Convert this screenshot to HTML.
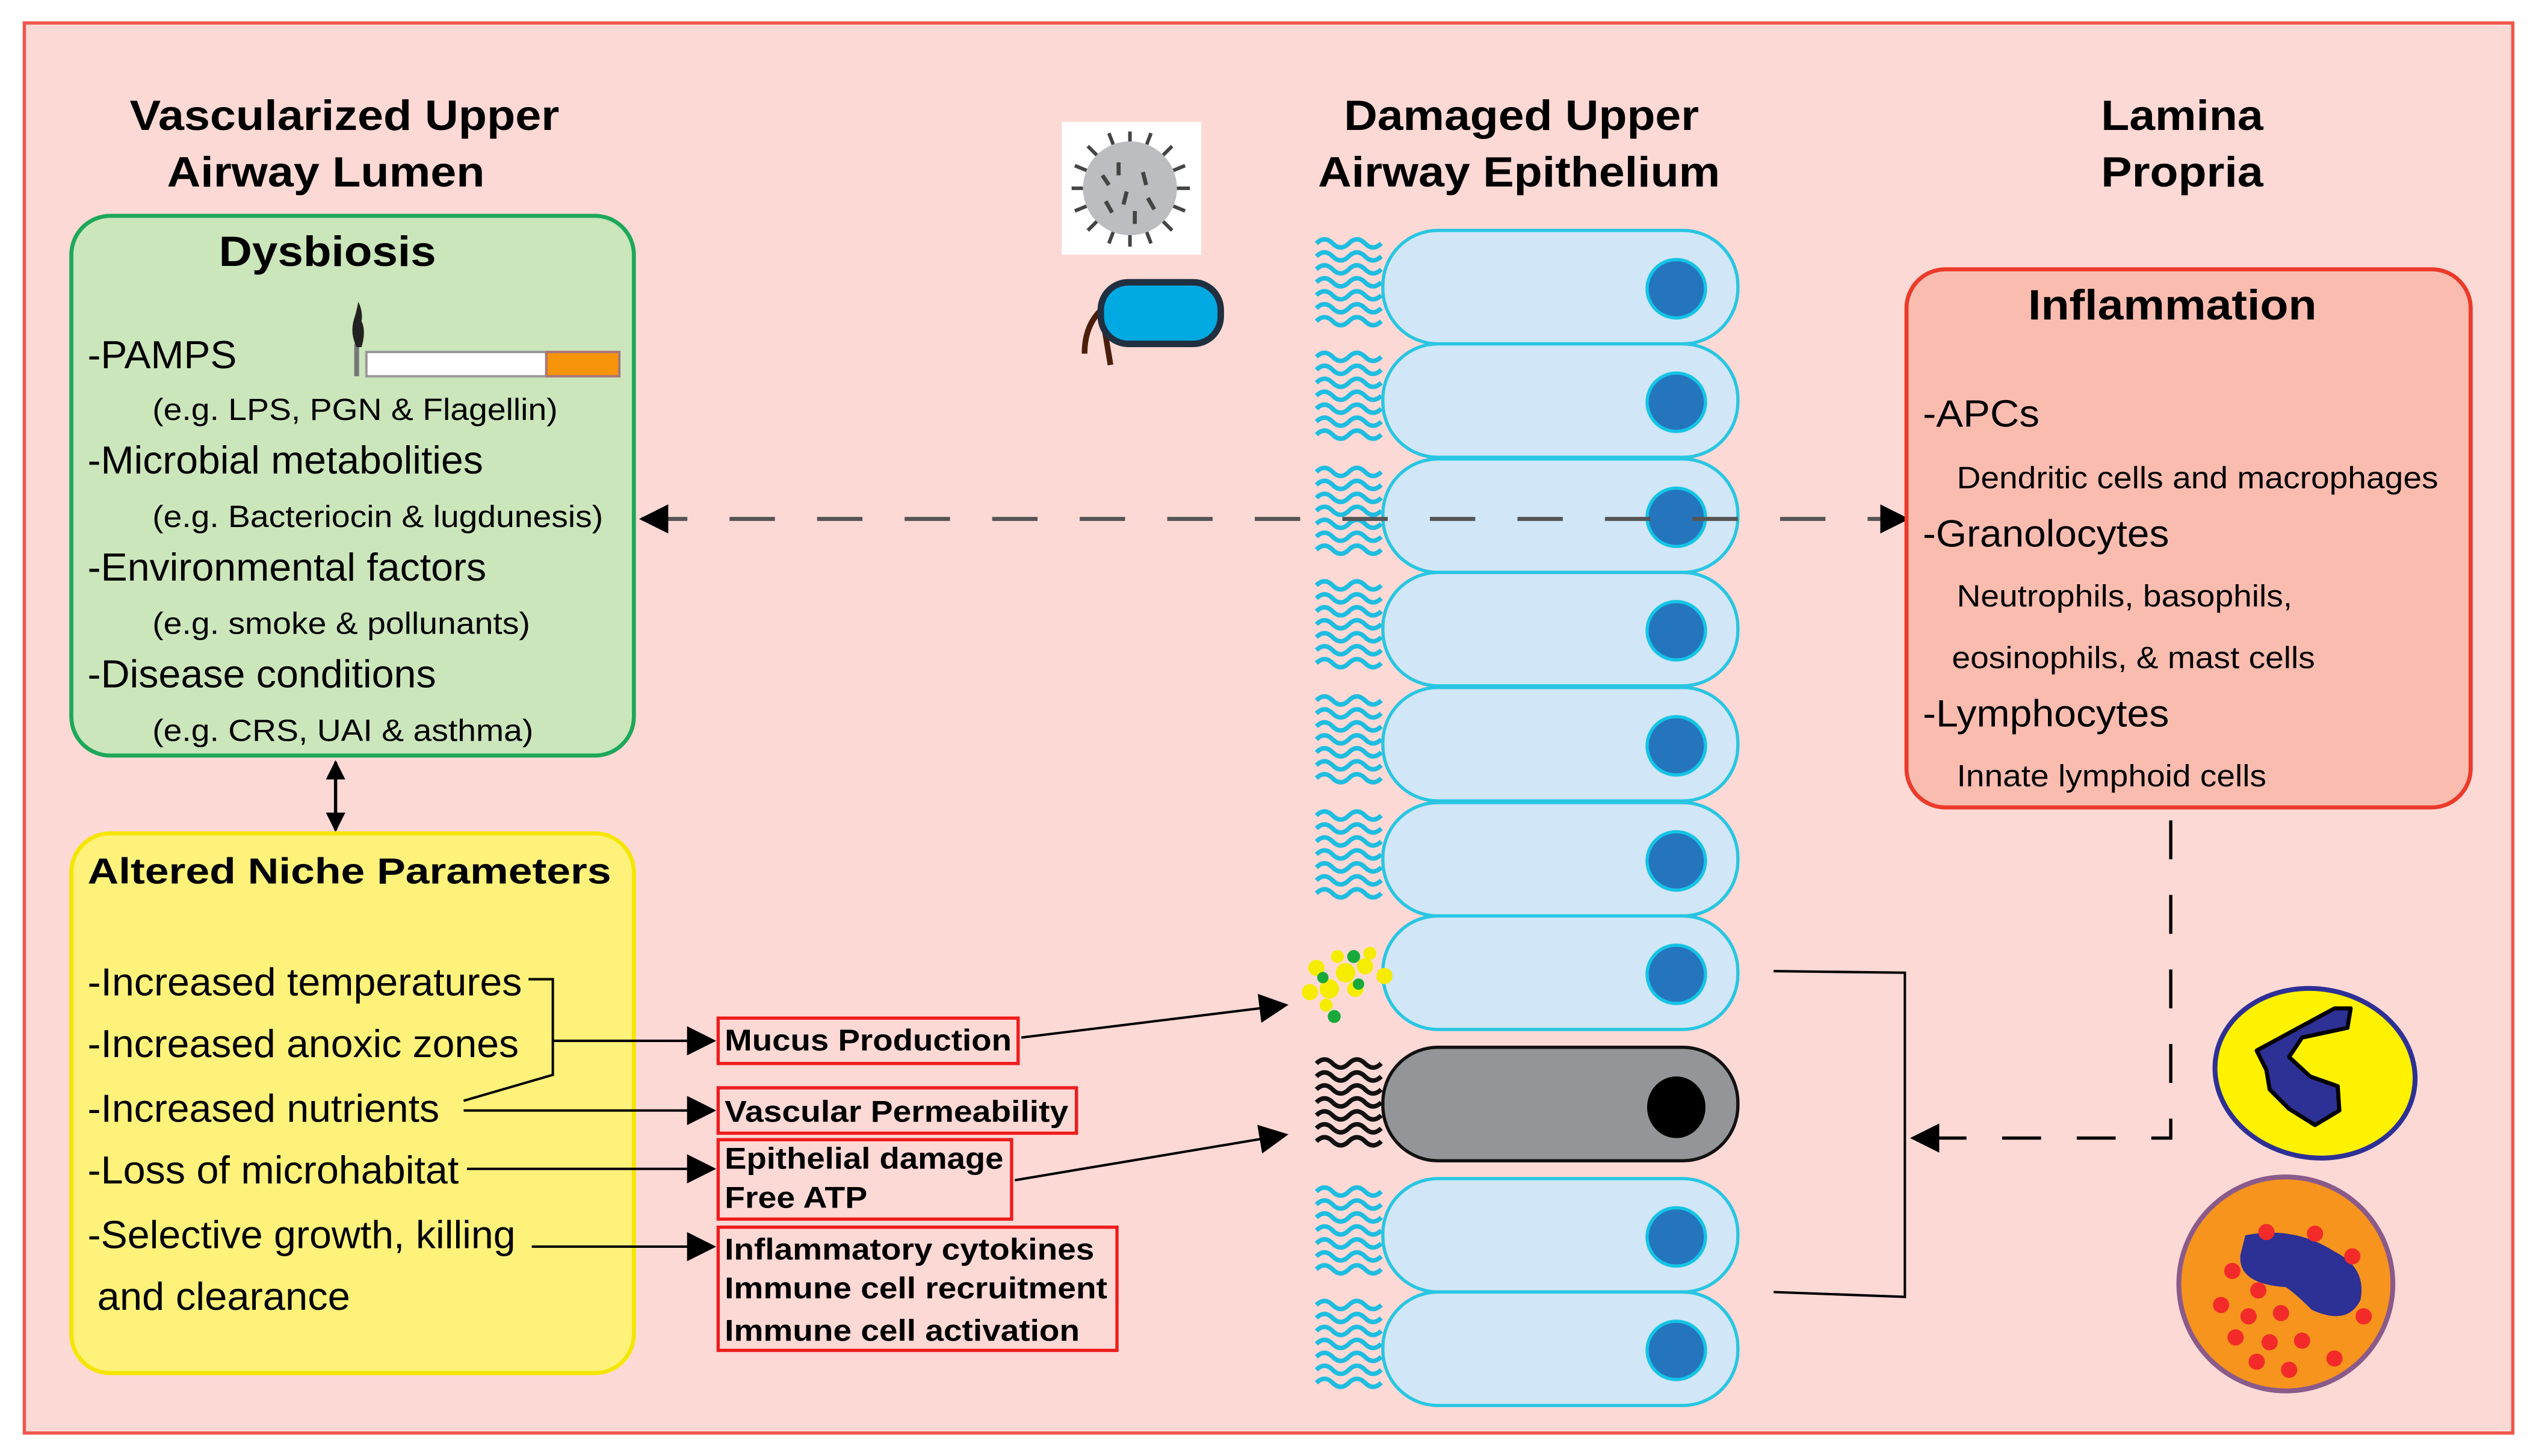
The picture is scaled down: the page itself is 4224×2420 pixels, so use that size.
<!DOCTYPE html>
<html><head><meta charset="utf-8"><style>
html,body{margin:0;padding:0;background:#fff;}
svg{display:block}
text{font-family:"Liberation Sans",sans-serif;}
</style></head><body>
<svg width="4224" height="2420" viewBox="0 0 1568 898" xmlns="http://www.w3.org/2000/svg">
<defs>
<marker id="ar" viewBox="0 0 10 10" refX="9" refY="5" markerWidth="12" markerHeight="12" orient="auto-start-reverse" markerUnits="userSpaceOnUse"><path d="M0,0 L10,5 L0,10z" fill="#000"/></marker>
<marker id="ab" viewBox="0 0 10 10" refX="9" refY="5" markerWidth="18" markerHeight="18" orient="auto-start-reverse" markerUnits="userSpaceOnUse"><path d="M0,0 L10,5 L0,10z" fill="#000"/></marker>
<g id="cil">
<path d="M812,8 q5,-5 10,0 t10,0 t10,0 t10,0 M812,16 q5,-5 10,0 t10,0 t10,0 t10,0 M812,24 q5,-5 10,0 t10,0 t10,0 t10,0 M812,32 q5,-5 10,0 t10,0 t10,0 t10,0 M812,40 q5,-5 10,0 t10,0 t10,0 t10,0 M812,48 q5,-5 10,0 t10,0 t10,0 t10,0 M812,56 q5,-5 10,0 t10,0 t10,0 t10,0" fill="none" stroke-width="2.8"/>
</g>
<g id="cell">
<use href="#cil" stroke="#1fbde0"/>
<rect x="853" y="0" width="219" height="70" rx="34" fill="#d1e6f6" stroke="#28c6e2" stroke-width="2"/>
<ellipse cx="1034" cy="36" rx="18" ry="18" fill="#2575bd" stroke="#14c4e6" stroke-width="2"/>
</g>
</defs>
<rect x="15" y="14" width="1535" height="870" fill="#fdd9d5" stroke="#f0564a" stroke-width="2"/>

<g font-weight="bold" font-size="26" fill="#000">
<text x="80" y="80" textLength="265" lengthAdjust="spacingAndGlyphs">Vascularized Upper</text>
<text x="103" y="115" textLength="196" lengthAdjust="spacingAndGlyphs">Airway Lumen</text>
<text x="829" y="80" textLength="219" lengthAdjust="spacingAndGlyphs">Damaged Upper</text>
<text x="813" y="115" textLength="248" lengthAdjust="spacingAndGlyphs">Airway Epithelium</text>
<text x="1296" y="80" textLength="100" lengthAdjust="spacingAndGlyphs">Lamina</text>
<text x="1296" y="115" textLength="100" lengthAdjust="spacingAndGlyphs">Propria</text>
</g>

<rect x="44" y="133" width="347" height="333" rx="24" fill="#cbe6bb" stroke="#1da85a" stroke-width="2.5"/>
<text x="135" y="164" font-weight="bold" font-size="26" textLength="134" lengthAdjust="spacingAndGlyphs">Dysbiosis</text>
<g font-size="24">
<text x="54" y="227" textLength="92" lengthAdjust="spacingAndGlyphs">-PAMPS</text>
<text x="54" y="292" textLength="244" lengthAdjust="spacingAndGlyphs">-Microbial metabolities</text>
<text x="54" y="358" textLength="246" lengthAdjust="spacingAndGlyphs">-Environmental factors</text>
<text x="54" y="424" textLength="215" lengthAdjust="spacingAndGlyphs">-Disease conditions</text>
</g>
<g font-size="19">
<text x="94" y="259" textLength="250" lengthAdjust="spacingAndGlyphs">(e.g. LPS, PGN &amp; Flagellin)</text>
<text x="94" y="325" textLength="278" lengthAdjust="spacingAndGlyphs">(e.g. Bacteriocin &amp; lugdunesis)</text>
<text x="94" y="391" textLength="233" lengthAdjust="spacingAndGlyphs">(e.g. smoke &amp; pollunants)</text>
<text x="94" y="457" textLength="235" lengthAdjust="spacingAndGlyphs">(e.g. CRS, UAI &amp; asthma)</text>
</g>
<rect x="226" y="217" width="111" height="15" fill="#fff" stroke="#999" stroke-width="1.5"/>
<rect x="337" y="217" width="45" height="15" fill="#f7940a" stroke="#a77" stroke-width="1.5"/>
<line x1="220" y1="232" x2="220" y2="212" stroke="#777" stroke-width="3"/>
<path d="M220,214 q-4,-8 -2,-16 q2,-6 3,-12 q3,6 2,12 q3,6 0,16z" fill="#222"/>

<line x1="207" y1="470" x2="207" y2="512" stroke="#000" stroke-width="2" marker-start="url(#ar)" marker-end="url(#ar)"/>

<rect x="44" y="514" width="347" height="333" rx="24" fill="#fef27a" stroke="#f4e600" stroke-width="2.5"/>
<text x="54" y="545" font-weight="bold" font-size="22.5" textLength="323" lengthAdjust="spacingAndGlyphs">Altered Niche Parameters</text>
<g font-size="24">
<text x="54" y="614" textLength="268" lengthAdjust="spacingAndGlyphs">-Increased temperatures</text>
<text x="54" y="652" textLength="266" lengthAdjust="spacingAndGlyphs">-Increased anoxic zones</text>
<text x="54" y="692" textLength="217" lengthAdjust="spacingAndGlyphs">-Increased nutrients</text>
<text x="54" y="730" textLength="229" lengthAdjust="spacingAndGlyphs">-Loss of microhabitat</text>
<text x="54" y="770" textLength="264" lengthAdjust="spacingAndGlyphs">-Selective growth, killing</text>
<text x="60" y="808" textLength="156" lengthAdjust="spacingAndGlyphs">and clearance</text>
</g>
<g stroke="#000" stroke-width="1.5" fill="none">
<path d="M326,604 L341,604 L341,663 L286,679"/>
<line x1="341" y1="642" x2="440" y2="642" marker-end="url(#ab)"/>
<line x1="286" y1="685" x2="440" y2="685" marker-end="url(#ab)"/>
<line x1="288" y1="721" x2="440" y2="721" marker-end="url(#ab)"/>
<line x1="328" y1="769" x2="440" y2="769" marker-end="url(#ab)"/>
<line x1="630" y1="640" x2="793" y2="620" marker-end="url(#ab)"/>
<line x1="626" y1="728" x2="793" y2="700" marker-end="url(#ab)"/>
</g>
<g fill="#fdd9d5" stroke="#ee1c1c" stroke-width="2">
<rect x="443" y="628" width="185" height="28"/>
<rect x="443" y="671" width="221" height="28"/>
<rect x="443" y="703" width="181" height="49"/>
<rect x="443" y="757" width="246" height="76"/>
</g>
<g font-weight="bold" font-size="18.5">
<text x="447" y="648" textLength="177" lengthAdjust="spacingAndGlyphs">Mucus Production</text>
<text x="447" y="692" textLength="212" lengthAdjust="spacingAndGlyphs">Vascular Permeability</text>
<text x="447" y="721" textLength="172" lengthAdjust="spacingAndGlyphs">Epithelial damage</text>
<text x="447" y="745" textLength="88" lengthAdjust="spacingAndGlyphs">Free ATP</text>
<text x="447" y="777" textLength="228" lengthAdjust="spacingAndGlyphs">Inflammatory cytokines</text>
<text x="447" y="801" textLength="236" lengthAdjust="spacingAndGlyphs">Immune cell recruitment</text>
<text x="447" y="827" textLength="219" lengthAdjust="spacingAndGlyphs">Immune cell activation</text>
</g>

<rect x="655" y="75" width="86" height="82" fill="#fff"/>
<g stroke="#444" stroke-width="2.2">
<line x1="697" y1="81" x2="697" y2="152"/><line x1="661" y1="116" x2="734" y2="116"/>
<line x1="671" y1="90" x2="723" y2="142"/><line x1="723" y1="90" x2="671" y2="142"/>
<line x1="684" y1="82" x2="710" y2="150"/><line x1="710" y1="82" x2="684" y2="150"/>
<line x1="663" y1="102" x2="731" y2="130"/><line x1="663" y1="130" x2="731" y2="102"/>
</g>
<ellipse cx="697" cy="116" rx="29" ry="29" fill="#bcbdc0"/>
<g stroke="#444" stroke-width="2.5"><line x1="690" y1="100" x2="690" y2="108"/><line x1="705" y1="106" x2="707" y2="114"/><line x1="695" y1="118" x2="693" y2="126"/><line x1="708" y1="122" x2="712" y2="129"/><line x1="682" y1="124" x2="686" y2="131"/><line x1="700" y1="130" x2="700" y2="138"/><line x1="680" y1="108" x2="684" y2="114"/></g>
<path d="M683,188 q-14,10 -14,30 M680,195 q2,12 5,30" stroke="#4a1e0a" stroke-width="3.5" fill="none"/>
<rect x="679" y="174" width="74" height="38" rx="17" fill="#00a9e2" stroke="#203040" stroke-width="4"/>

<use href="#cell" transform="translate(0,142)"/>
<use href="#cell" transform="translate(0,212)"/>
<use href="#cell" transform="translate(0,283)"/>
<use href="#cell" transform="translate(0,353)"/>
<use href="#cell" transform="translate(0,424)"/>
<use href="#cell" transform="translate(0,495)"/>
<rect x="853" y="565" width="219" height="70" rx="34" fill="#d1e6f6" stroke="#28c6e2" stroke-width="2"/>
<ellipse cx="1034" cy="601" rx="18" ry="18" fill="#2575bd" stroke="#14c4e6" stroke-width="2"/>
<use href="#cell" transform="translate(0,727)"/>
<use href="#cell" transform="translate(0,797)"/>
<g fill="#f5ec00"><circle cx="812" cy="597" r="5"/><circle cx="820" cy="610" r="6"/><circle cx="830" cy="600" r="6"/><circle cx="842" cy="596" r="5"/><circle cx="836" cy="610" r="5"/><circle cx="808" cy="612" r="5"/><circle cx="854" cy="602" r="5"/><circle cx="825" cy="590" r="4"/><circle cx="845" cy="588" r="4"/><circle cx="818" cy="620" r="4"/></g>
<g fill="#18a93a"><circle cx="835" cy="590" r="4"/><circle cx="816" cy="603" r="3.5"/><circle cx="838" cy="607" r="3.5"/><circle cx="823" cy="627" r="4"/></g>
<use href="#cil" transform="translate(0,648)" stroke="#111"/>
<rect x="853" y="646" width="219" height="70" rx="34" fill="#949599" stroke="#111" stroke-width="2"/>
<ellipse cx="1034" cy="683" rx="18" ry="19" fill="#000"/>

<line x1="396" y1="320" x2="1176" y2="320" stroke="#555" stroke-width="2.5" stroke-dasharray="28,26" marker-start="url(#ab)" marker-end="url(#ab)"/>

<rect x="1176" y="166" width="348" height="332" rx="24" fill="#fbbcb0" stroke="#ec3a2a" stroke-width="2.5"/>
<text x="1251" y="197" font-weight="bold" font-size="26" textLength="178" lengthAdjust="spacingAndGlyphs">Inflammation</text>
<g font-size="23.5">
<text x="1186" y="263" textLength="72" lengthAdjust="spacingAndGlyphs">-APCs</text>
<text x="1186" y="337" textLength="152" lengthAdjust="spacingAndGlyphs">-Granolocytes</text>
<text x="1186" y="448" textLength="152" lengthAdjust="spacingAndGlyphs">-Lymphocytes</text>
</g>
<g font-size="19">
<text x="1207" y="301" textLength="297" lengthAdjust="spacingAndGlyphs">Dendritic cells and macrophages</text>
<text x="1207" y="374" textLength="207" lengthAdjust="spacingAndGlyphs">Neutrophils, basophils,</text>
<text x="1204" y="412" textLength="224" lengthAdjust="spacingAndGlyphs">eosinophils, &amp; mast cells</text>
<text x="1207" y="485" textLength="191" lengthAdjust="spacingAndGlyphs">Innate lymphoid cells</text>
</g>
<path d="M1094,599 L1175,600 L1175,800 L1094,797" fill="none" stroke="#000" stroke-width="1.5"/>
<path d="M1339,506 L1339,702 L1180,702" fill="none" stroke="#000" stroke-width="2" stroke-dasharray="24,22" marker-end="url(#ab)"/>
<ellipse cx="1428" cy="662" rx="62" ry="52" transform="rotate(10 1428 662)" fill="#fef200" stroke="#2d3095" stroke-width="3"/>
<path d="M1392,648 L1440,622 L1450,622 L1448,634 L1420,640 L1412,652 L1425,664 L1442,670 L1443,685 L1428,694 L1412,684 L1400,672 L1398,660 Z" fill="#2d3095" stroke="#000" stroke-width="2.5" stroke-linejoin="round"/>
<circle cx="1410" cy="792" r="66" fill="#f7941d" stroke="#8a5a8a" stroke-width="3"/>
<path d="M1385,762 q30,-6 55,10 q20,10 16,30 q-8,16 -30,6 q-10,-10 -16,-14 q-30,-2 -28,-20 z" fill="#2d3095"/>
<g fill="#f32a2a"><circle cx="1398" cy="760" r="5"/><circle cx="1428" cy="761" r="5"/><circle cx="1451" cy="775" r="5"/><circle cx="1377" cy="784" r="5"/><circle cx="1393" cy="796" r="5"/><circle cx="1370" cy="805" r="5"/><circle cx="1387" cy="812" r="5"/><circle cx="1407" cy="810" r="5"/><circle cx="1379" cy="825" r="5"/><circle cx="1400" cy="828" r="5"/><circle cx="1420" cy="827" r="5"/><circle cx="1392" cy="840" r="5"/><circle cx="1412" cy="845" r="5"/><circle cx="1440" cy="838" r="5"/><circle cx="1458" cy="812" r="5"/></g>
</svg>
</body></html>
